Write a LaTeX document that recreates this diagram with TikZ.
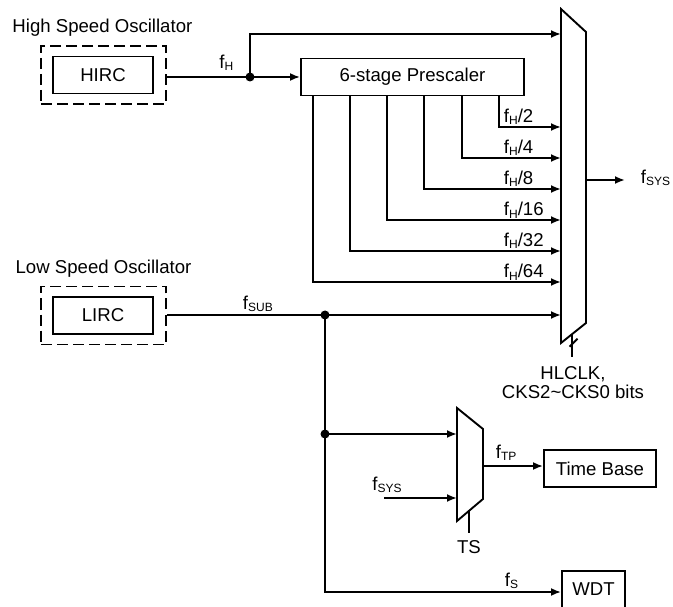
\documentclass[tikz,border=0pt]{standalone}
\usepackage{fontspec}
\setmainfont{Liberation Sans}
\usetikzlibrary{arrows.meta,calc}
\newcommand{\fsub}[1]{f\raisebox{-2pt}{\fontsize{12}{12}\selectfont #1}}
\begin{document}
\begin{tikzpicture}[x=1pt, y=-1pt, >={Latex[length=10pt,width=8pt]}, line width=1.9pt,
    every node/.style={font=\fontsize{18.6}{19}\selectfont},
    blk/.style={draw, minimum height=37pt, inner sep=0pt},
    osc/.style={draw, dash pattern=on 11pt off 5pt, line width=1.8pt, minimum width=125pt, minimum height=58pt},
    lbl/.style={anchor=base west, inner sep=0pt}]
\clip (0,0) rectangle (673,607);
% Oszillatoren
\node[lbl] (hlbl) at (11.5,32.7) {High Speed Oscillator};
\node[blk, minimum width=100pt] (hirc) at (103,75) {HIRC};
\node[osc] (hosc) at (103.5,75) {};
\node[lbl] (llbl) at (14.7,273.3) {Low Speed Oscillator};
\node[blk, minimum width=100pt] (lirc) at (103,315.5) {LIRC};
\node[osc] (losc) at (103.5,315.5) {};
% Vorteiler
\node[blk, minimum width=223pt] (presc) at (412.5,77) {6-stage Prescaler};
% Multiplexer HLCLK
\coordinate (mux-tl) at (561,9);
\coordinate (mux-tr) at (586,32);
\coordinate (mux-br) at (586,323);
\coordinate (mux-bl) at (561,343);
\draw[line join=miter] (mux-tl) -- (mux-tr) -- (mux-br) -- (mux-bl) -- cycle;
% f_H
\coordinate (fh) at (250,77);
\fill (fh) circle (4.5pt);
\draw (hosc.east |- fh) -- (fh);
\draw[->] (fh) -- (presc.west);
\draw[->] (fh) |- (mux-tl |- 0,34);
\node[lbl] (fhlbl) at (218.5,68.3) {\fsub{H}};
% Ausgaenge des Vorteilers
\foreach \x/\y/\d in {499/127/2, 462/158/4, 424/189/8, 387/220/16, 350/251/32, 313/282/64} {
    \draw[->] (presc.south -| \x,0) |- (mux-tl |- 0,\y);
    \node[lbl] (div\d) at (503,\y-4) {\fsub{H}/\d};
}
% f_SYS Ausgang
\coordinate (fsys) at (625,180);
\draw[->] (mux-tr |- fsys) -- (fsys);
\node[lbl] (fsyslbl) at (640,183.5) {\fsub{SYS}};
% Steuerung HLCLK
\coordinate (hctl) at ($(mux-bl)!0.45!(mux-br)$);
\draw (hctl) -- ++(0,23);
\draw ($(hctl)+(-2.75,12.7)$) -- ++(8,-8);
\node[anchor=north, align=center, inner sep=0pt] (hclbl) at (573,366) {HLCLK,\\CKS2\textasciitilde CKS0 bits};
% f_SUB
\coordinate (fsub) at (325,315);
\fill (fsub) circle (4.5pt);
\draw (losc.east |- fsub) -- (fsub);
\draw[->] (fsub) -- (mux-bl |- fsub);
\node[lbl] (fsublbl) at (242,309) {\fsub{SUB}};
% Multiplexer TS
\coordinate (ts-tl) at (457,408);
\coordinate (ts-tr) at (483,429);
\coordinate (ts-br) at (483,499);
\coordinate (ts-bl) at (457,521);
\draw[line join=miter] (ts-tl) -- (ts-tr) -- (ts-br) -- (ts-bl) -- cycle;
\coordinate (fsj) at (325,434);
\fill (fsj) circle (4.5pt);
\draw[->] (fsj) -- (ts-tl |- fsj);
\coordinate (fsysin) at (384,498);
\draw[->] (fsysin) -- (ts-tl |- fsysin);
\node[lbl] (fsysinlbl) at (371.5,490) {\fsub{SYS}};
\draw ($(ts-bl)!0.46!(ts-br)$) -- ++(0,22);
\node[anchor=base, inner sep=0pt] (tslbl) at (469,553.3) {TS};
% Time Base und WDT
\node[blk, minimum width=112pt] (tb) at (600,468.5) {Time Base};
\draw[->] (ts-tr |- 0,466) -- (tb.west |- 0,466);
\node[lbl] (ftplbl) at (495,458) {\fsub{TP}};
\node[blk, minimum width=63pt] (wdt) at (593.5,589.5) {WDT};
\draw[->] (fsub) |- (wdt.west |- 0,592);
\node[lbl] (fslbl) at (504,586) {\fsub{S}};
\end{tikzpicture}
\end{document}
